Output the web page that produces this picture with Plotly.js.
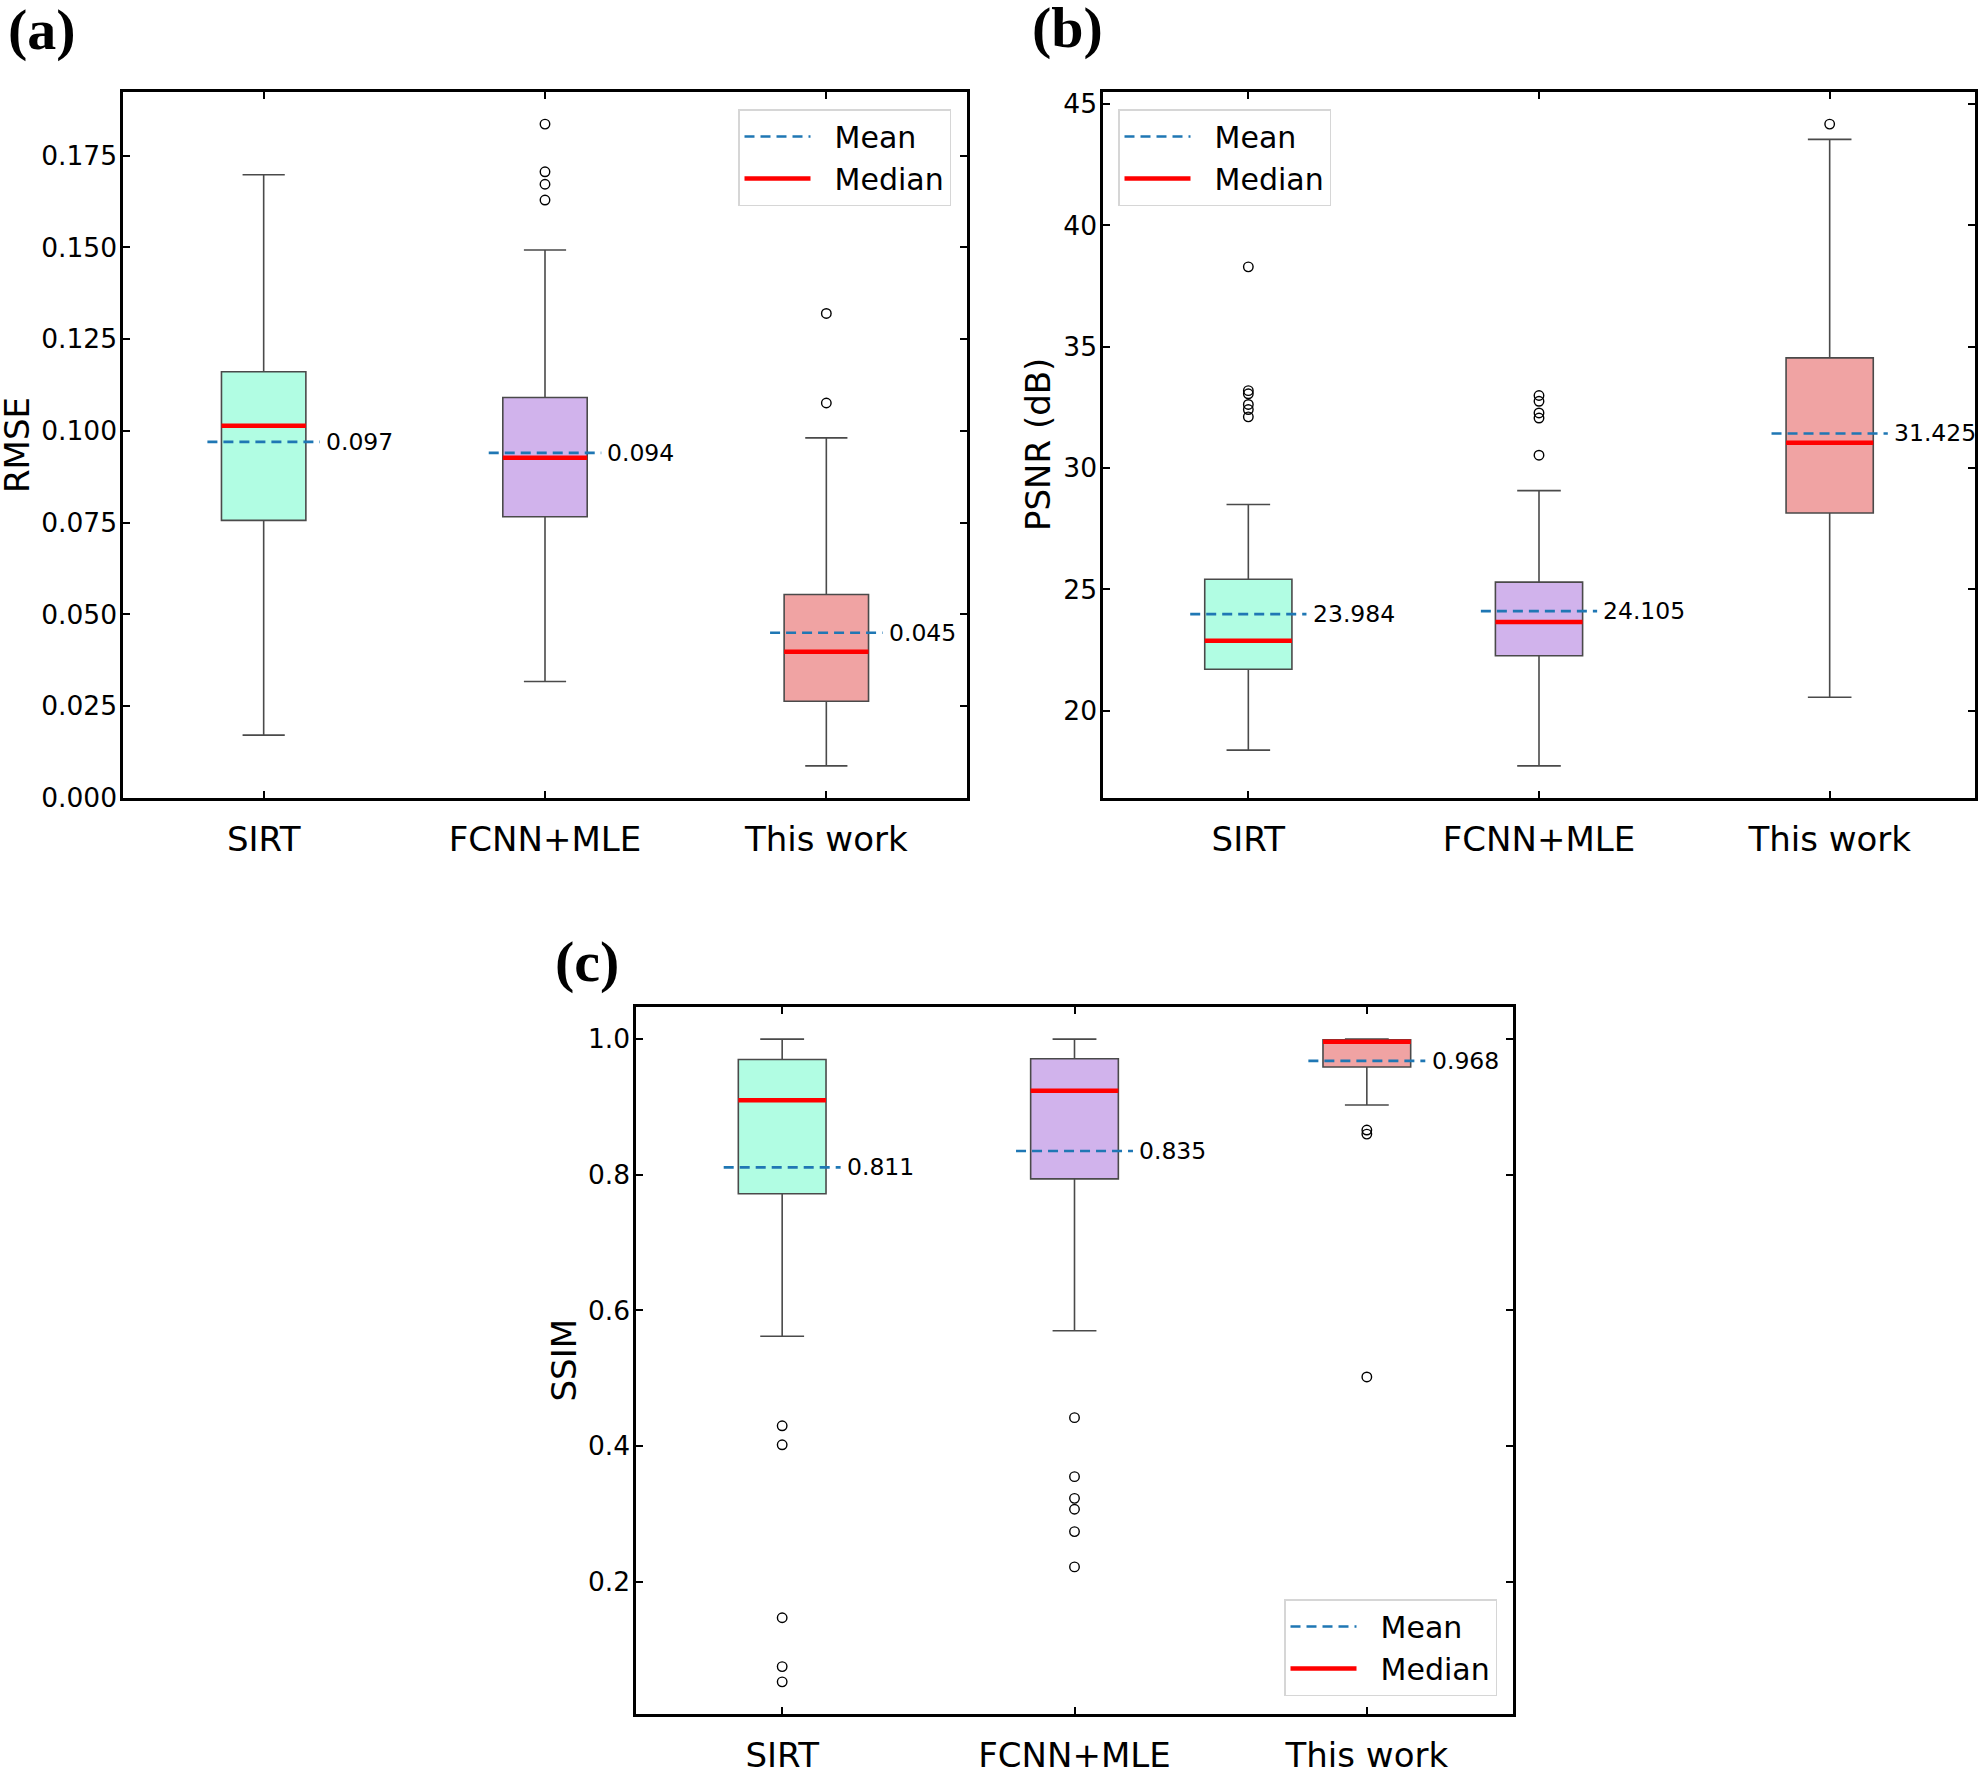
<!DOCTYPE html>
<html>
<head>
<meta charset="utf-8">
<script src="https://cdn.plot.ly/plotly-3.0.1.min.js"></script>
<style>
  html, body { margin: 0; padding: 0; background: #ffffff; }
  #chart { width: 1983px; height: 1772px; }
</style>
</head>
<body>
<div id="chart"></div>
<script>
// ---------------- DATA ----------------
const categories = ['SIRT', 'FCNN+MLE', 'This work'];
const positions = [1, 2, 3];

// (a) RMSE
const rmseLowerFence = [0.0171, 0.0317, 0.0087];
const rmseQ1         = [0.0756, 0.0766, 0.0263];
const rmseMedian     = [0.1014, 0.0927, 0.0398];
const rmseQ3         = [0.1161, 0.1091, 0.0554];
const rmseUpperFence = [0.1698, 0.1493, 0.0981];
const rmseMean       = [0.097, 0.094, 0.045];
const rmseOutliers   = [[], [0.1836, 0.1706, 0.1672, 0.1629], [0.1320, 0.1076]];

// (b) PSNR (dB)
const psnrLowerFence = [18.38, 17.73, 20.56];
const psnrQ1         = [21.71, 22.27, 28.15];
const psnrMedian     = [22.89, 23.66, 31.04];
const psnrQ3         = [25.42, 25.30, 34.54];
const psnrUpperFence = [28.50, 29.07, 43.54];
const psnrMean       = [23.984, 24.105, 31.425];
const psnrOutliers   = [[38.29, 33.19, 33.06, 32.62, 32.41, 32.11], [32.99, 32.75, 32.27, 32.06, 30.53], [44.17]];

// (c) SSIM
const ssimLowerFence = [0.562, 0.570, 0.903];
const ssimQ1         = [0.772, 0.794, 0.959];
const ssimMedian     = [0.910, 0.924, 0.996];
const ssimQ3         = [0.970, 0.971, 0.999];
const ssimUpperFence = [1.0, 1.0, 1.0];
const ssimMean       = [0.811, 0.835, 0.968];
const ssimOutliers   = [[0.430, 0.402, 0.147, 0.075, 0.0525], [0.442, 0.355, 0.323, 0.307, 0.274, 0.222], [0.866, 0.860, 0.502]];

const panelLabels = ['(a)', '(b)', '(c)'];
const yTitles = ['RMSE', 'PSNR (dB)', 'SSIM'];
const legendNames = ['Mean', 'Median'];

// ---------------- STYLE ----------------
const boxFills = ['#b1fde3', '#d1b3ec', '#f0a3a3'];
const boxLine = '#4a4a4a';
const meanColor = '#1f77b4';
const medianColor = '#ff0000';
const FONT = 'DejaVu Sans, Noto Sans, sans-serif';
const W = 1983, H = 1772;

const panels = [
  { lf: rmseLowerFence, q1: rmseQ1, med: rmseMedian, q3: rmseQ3, uf: rmseUpperFence, mean: rmseMean, out: rmseOutliers,
    xa: 'x', ya: 'y', xkey: 'xaxis', ykey: 'yaxis', legend: 'legend',
    px: [123, 967], py: [92, 798], dtick: 0.025, fmt: '.3f', titleX: 17 },
  { lf: psnrLowerFence, q1: psnrQ1, med: psnrMedian, q3: psnrQ3, uf: psnrUpperFence, mean: psnrMean, out: psnrOutliers,
    xa: 'x2', ya: 'y2', xkey: 'xaxis2', ykey: 'yaxis2', legend: 'legend2',
    px: [1103, 1975], py: [92, 798], dtick: 5, fmt: 'd', titleX: 1038 },
  { lf: ssimLowerFence, q1: ssimQ1, med: ssimMedian, q3: ssimQ3, uf: ssimUpperFence, mean: ssimMean, out: ssimOutliers,
    xa: 'x3', ya: 'y3', xkey: 'xaxis3', ykey: 'yaxis3', legend: 'legend3',
    px: [636, 1513], py: [1007, 1714], dtick: 0.2, fmt: '.1f', titleX: 563 }
];

const traces = [];
const annotations = [];
const layout = {
  width: W, height: H,
  margin: { l: 0, r: 0, t: 0, b: 0, pad: 0 },
  paper_bgcolor: '#ffffff', plot_bgcolor: '#ffffff',
  boxmode: 'overlay',
  showlegend: true,
  font: { family: FONT, color: '#000000' },
  annotations: annotations
};

const boxWidth = 0.3;
const meanHalf = 0.2;
const gap = '\u00a0\u00a0';

panels.forEach((p, k) => {
  // boxes
  positions.forEach((pos, i) => {
    traces.push({
      type: 'box', xaxis: p.xa, yaxis: p.ya,
      x: [pos], q1: [p.q1[i]], median: [p.med[i]], q3: [p.q3[i]],
      lowerfence: [p.lf[i]], upperfence: [p.uf[i]],
      width: boxWidth, whiskerwidth: 0.5,
      fillcolor: boxFills[i], line: { color: boxLine, width: 1.6 },
      boxpoints: false, showlegend: false, hoverinfo: 'skip'
    });
  });
  // outliers
  const ox = [], oy = [];
  p.out.forEach((arr, i) => arr.forEach(v => { ox.push(positions[i]); oy.push(v); }));
  traces.push({
    type: 'scatter', mode: 'markers', xaxis: p.xa, yaxis: p.ya, x: ox, y: oy,
    marker: { symbol: 'circle-open', size: 9.5, color: '#000000', line: { width: 1.4, color: '#000000' } },
    showlegend: false, hoverinfo: 'skip'
  });
  // mean dashed lines
  const mx = [], my = [];
  positions.forEach((pos, i) => { mx.push(pos - meanHalf, pos + meanHalf, null); my.push(p.mean[i], p.mean[i], null); });
  traces.push({
    type: 'scatter', mode: 'lines', xaxis: p.xa, yaxis: p.ya, x: mx, y: my,
    line: { color: meanColor, width: 2.6, dash: '10px,6px' },
    name: gap + legendNames[0], legend: p.legend, legendrank: 1, showlegend: true, hoverinfo: 'skip'
  });
  // median lines
  const dx = [], dy = [];
  positions.forEach((pos, i) => { dx.push(pos - boxWidth / 2, pos + boxWidth / 2, null); dy.push(p.med[i], p.med[i], null); });
  traces.push({
    type: 'scatter', mode: 'lines', xaxis: p.xa, yaxis: p.ya, x: dx, y: dy,
    line: { color: medianColor, width: 4.5 },
    name: gap + legendNames[1], legend: p.legend, legendrank: 2, showlegend: true, hoverinfo: 'skip'
  });
  // mean value labels
  positions.forEach((pos, i) => {
    annotations.push({
      xref: p.xa, yref: p.ya, x: pos + 0.215, y: p.mean[i],
      text: p.mean[i].toFixed(3), showarrow: false, xanchor: 'left', yanchor: 'middle',
      font: { family: FONT, size: 23.5, color: '#000000' }
    });
  });
  // y axis title (placed as rotated text)
  annotations.push({
    xref: 'paper', yref: 'paper', x: p.titleX / W, y: 1 - (p.py[0] + p.py[1]) / 2 / H,
    text: yTitles[k], textangle: -90, showarrow: false, xanchor: 'center', yanchor: 'middle',
    font: { family: FONT, size: 34, color: '#000000' }
  });

  // y range like matplotlib autoscale (5% margin over all data)
  const allVals = [].concat(p.lf, p.uf, ...p.out);
  const lo = Math.min(...allVals), hi = Math.max(...allVals);
  const span = hi - lo;

  layout[p.xkey] = {
    domain: [p.px[0] / W, p.px[1] / W],
    anchor: p.ya,
    range: [0.5, 3.5], tickmode: 'array', tickvals: positions, ticktext: categories,
    showline: true, linecolor: '#000000', linewidth: 2.6, mirror: 'allticks',
    ticks: 'inside', ticklen: 7, tickwidth: 2, tickcolor: '#000000',
    showgrid: false, zeroline: false,
    tickfont: { family: FONT, size: 34, color: '#000000' },
    ticklabelstandoff: 10
  };
  layout[p.ykey] = {
    domain: [1 - p.py[1] / H, 1 - p.py[0] / H],
    anchor: p.xa,
    range: [lo - 0.05 * span, hi + 0.05 * span],
    tick0: 0, dtick: p.dtick, tickformat: p.fmt,
    showline: true, linecolor: '#000000', linewidth: 2.6, mirror: 'allticks',
    ticks: 'inside', ticklen: 7, tickwidth: 2, tickcolor: '#000000',
    showgrid: false, zeroline: false,
    tickfont: { family: FONT, size: 26.5, color: '#000000' },
    ticklabelstandoff: -2,
    automargin: false
  };
});

// legends
const legendCommon = {
  bgcolor: '#ffffff', bordercolor: '#d6d6d6', borderwidth: 1.5,
  font: { family: FONT, size: 30, color: '#000000' },
  itemwidth: 66, tracegroupgap: 0, traceorder: 'normal'
};
layout.legend  = Object.assign({}, legendCommon, { x: 951 / W, xanchor: 'right', y: 1 - 109 / H, yanchor: 'top' });
layout.legend2 = Object.assign({}, legendCommon, { x: 1118 / W, xanchor: 'left', y: 1 - 109 / H, yanchor: 'top' });
layout.legend3 = Object.assign({}, legendCommon, { x: 1497 / W, xanchor: 'right', y: 1 - 1696 / H, yanchor: 'bottom' });

// panel letters
const letterPos = [[42, 30], [1067, 28], [587, 961]];
panelLabels.forEach((t, i) => {
  annotations.push({
    xref: 'paper', yref: 'paper', x: letterPos[i][0] / W, y: 1 - letterPos[i][1] / H,
    text: '<b>' + t + '</b>', showarrow: false, xanchor: 'center', yanchor: 'middle',
    font: { family: 'Liberation Serif, DejaVu Serif, serif', size: 58, color: '#000000' }
  });
});

Plotly.newPlot('chart', traces, layout, { displayModeBar: false, staticPlot: true });
</script>
</body>
</html>
